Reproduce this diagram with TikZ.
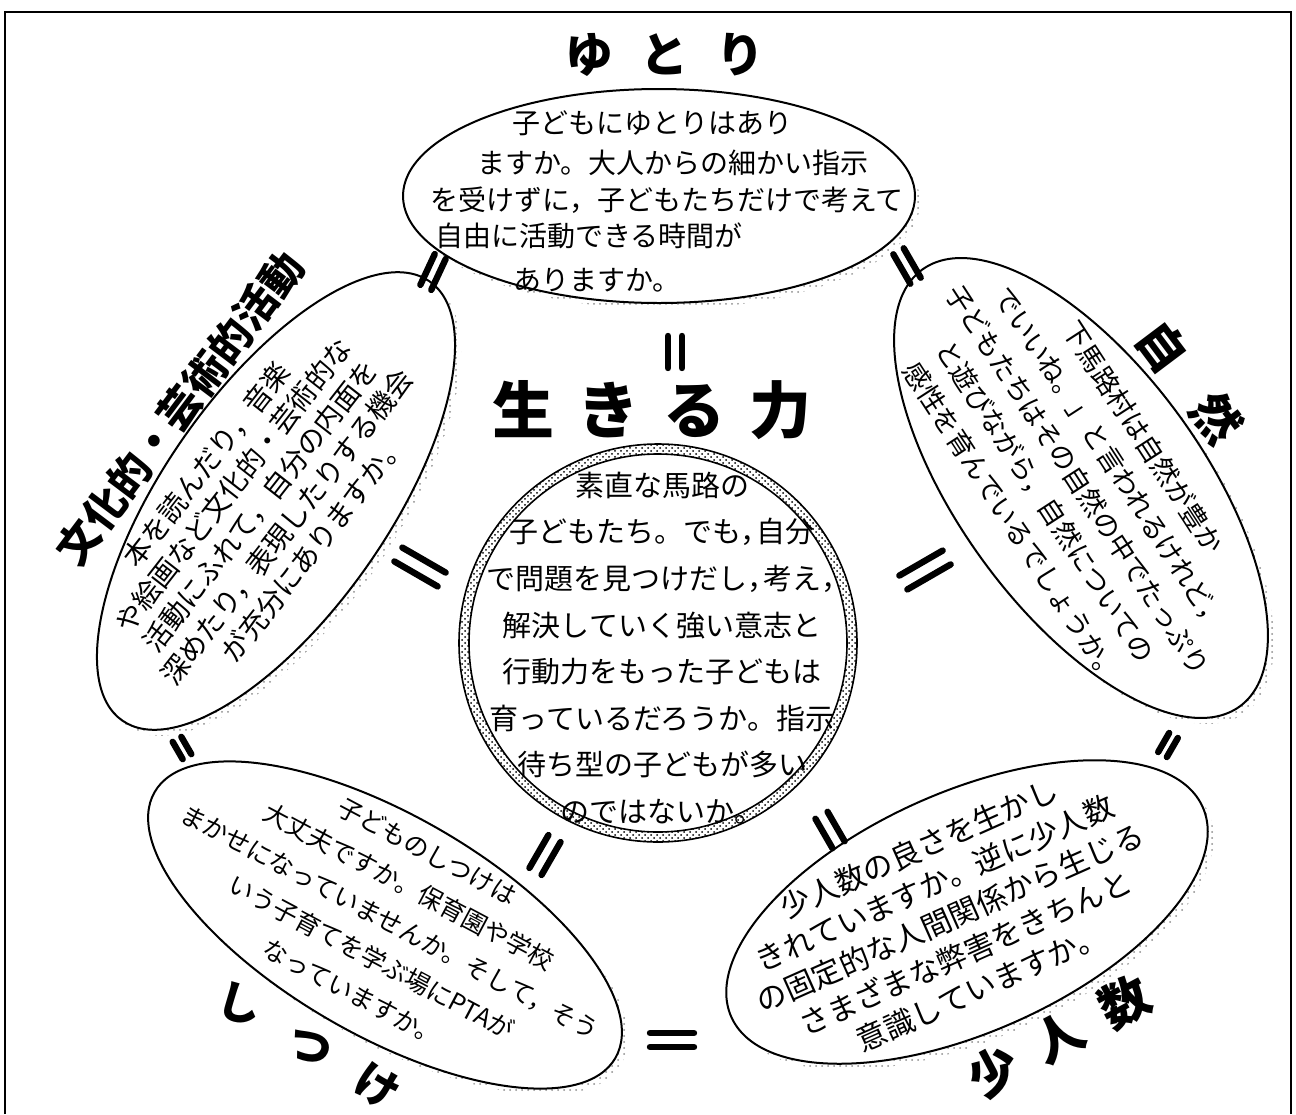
\documentclass[tikz,border=0pt]{standalone}
\usepackage{fontspec}
\newfontfamily\jp{Noto Sans CJK JP}
\usetikzlibrary{shapes.geometric,patterns}
\newcommand\tcm{，\kern-0.45em}
\tikzset{
  pics/eqm/.style 2 args={code={\draw[eqbar] (-#2,-#1) -- (-#2,#1) (#2,-#1) -- (#2,#1);}},
}
\begin{document}
\begin{tikzpicture}[x=0.5pt,y=-0.5pt,
  bub/.style={ellipse,draw=black,line width=1pt,fill=white,inner sep=0pt,outer sep=0pt},
  shd/.style={ellipse,pattern=dots,pattern color=black!45,inner sep=0pt,outer sep=0pt},
  body/.style={font=\jp\fontsize{14pt}{19pt}\selectfont,align=center,inner sep=0pt},
  ttl/.style={font=\jp\bfseries\fontsize{24pt}{28pt}\selectfont,inner sep=0pt},
  eqbar/.style={line width=3.2pt,line cap=round},
]
\useasboundingbox (0,0) rectangle (1296,1114);
% frame
\draw[line width=1.2pt] (5,1114) -- (5,12) -- (1291,12) -- (1291,1114);

% shadows
\node[shd,minimum width=256pt,minimum height=107pt] (sY) at (664,202) {};
\node[shd,minimum width=270pt,minimum height=122pt,rotate=-54] (sN) at (1087,494) {};
\node[shd,minimum width=268pt,minimum height=112pt,rotate=55] (sB) at (282,507) {};
\node[shd,minimum width=266pt,minimum height=110pt,rotate=-30] (sS) at (391,931) {};
\node[shd,minimum width=258pt,minimum height=120pt,rotate=24] (sF) at (973,918) {};

% bubbles
\node[bub,minimum width=256pt,minimum height=107pt] (yutoriB) at (659,196) {};
\node[bub,minimum width=270pt,minimum height=122pt,rotate=-54] (shizenB) at (1081,488) {};
\node[bub,minimum width=268pt,minimum height=112pt,rotate=55] (bunkaB) at (276,501) {};
\node[bub,minimum width=266pt,minimum height=110pt,rotate=-30] (shitsukeB) at (385,925) {};
\node[bub,minimum width=258pt,minimum height=120pt,rotate=24] (shoninB) at (967,912) {};

% centre circle with ring
\node[circle,draw,line width=0.8pt,minimum size=199pt,inner sep=0pt,pattern=crosshatch dots,pattern color=black] (ringO) at (658,643) {};
\node[circle,draw,line width=0.8pt,minimum size=189pt,inner sep=0pt,fill=white] (ringI) at (658,643) {};

% texts: top
\node[body] (y1) at (652,123) {子どもにゆとりはあり};
\node[body] (y2) at (673,163) {ますか。大人からの細かい指示};
\node[body] (y3) at (667,200) {を受けずに，子どもたちだけで考えて};
\node[body] (y4) at (589,236) {自由に活動できる時間が};
\node[body] (y5) at (597,280) {ありますか。};

% right
\node[body,font=\jp\fontsize{13.5pt}{19.5pt}\selectfont,rotate=-57] (nT) at (1078,480)
 {下馬路村は自然が豊か\\でいいね。」と言われるけれど，\\子どもたちはその自然の中でたっぷり\\と遊びながら，自然についての\\感性を育んでいるでしょうか。};

% left
\node[body,font=\jp\fontsize{14pt}{17pt}\selectfont,rotate=52] (bT) at (260,506)
 {本を読んだり，音楽\\や絵画など文化的・芸術的な\\活動にふれて，自分の内面を\\深めたり，表現したりする機会\\が充分にありますか。};

% bottom left
\node[body,font=\jp\fontsize{12.5pt}{20pt}\selectfont,rotate=-28] (sT) at (390,922)
 {子どものしつけは\\大丈夫ですか。保育園や学校\\まかせになっていませんか。そして，そう\\いう子育てを学ぶ場にPTAが\\なっていますか。};

% bottom right
\node[body,font=\jp\fontsize{15pt}{19pt}\selectfont,rotate=24] (fT) at (950,918)
 {少人数の良さを生かし\\きれていますか。逆に少人数\\の固定的な人間関係から生じる\\さまざまな弊害をきちんと\\意識していますか。};

% centre
\node[body,font=\jp\fontsize{14.5pt}{23.3pt}\selectfont] (cT) at (662,648)
 {素直な馬路の\\子どもたち。でも\tcm 自分\\で問題を見つけだし\tcm 考え\tcm\\解決していく強い意志と\\行動力をもった子どもは\\育っているだろうか。指示\\待ち型の子どもが多い\\のではないか。};

% titles
\node[ttl] (yutori) at (665,55) {ゆ\hspace{14pt}と\hspace{14pt}り};
\node[ttl,font=\jp\bfseries\fontsize{31pt}{34pt}\selectfont] (ikiru) at (652,410) {生\hspace{12pt}き\hspace{12pt}る\hspace{12pt}力};
\node[ttl,rotate=-53] (shizen) at (1190,382) {自\hspace{21pt}然};
\node[ttl,font=\jp\bfseries\fontsize{21pt}{26pt}\selectfont,rotate=53] (bunka) at (180,408) {文化的・芸術的活動};
\node[ttl,font=\jp\bfseries\fontsize{22pt}{26pt}\selectfont,rotate=-15] (shi) at (240,1004) {し};
\node[ttl,font=\jp\bfseries\fontsize{22pt}{26pt}\selectfont,rotate=-25] (tsu) at (310,1047) {つ};
\node[ttl,font=\jp\bfseries\fontsize{22pt}{26pt}\selectfont,rotate=-30] (ke) at (377,1087) {け};
\node[ttl,font=\jp\bfseries\fontsize{25pt}{28pt}\selectfont,rotate=28] (shonin) at (1059,1037) {少\hspace{12pt}人\hspace{12pt}数};

% equal marks
\coordinate (e1) at (433,272);
\coordinate (e2) at (907,266);
\coordinate (e3) at (675,352);
\coordinate (e4) at (420,567);
\coordinate (e5) at (925,570);
\coordinate (e6) at (182,748);
\coordinate (e7) at (1168,745);
\coordinate (e8) at (545,855);
\coordinate (e9) at (830,830);
\coordinate (e10) at (672,1040);
\pic[rotate=-25] at (e1) {eqm={17}{6}};
\pic[rotate=30] at (e2) {eqm={17}{6}};
\pic at (e3) {eqm={16}{7}};
\pic[rotate=60] at (e4) {eqm={25}{8}};
\pic[rotate=-60] at (e5) {eqm={25}{8}};
\pic[rotate=30] at (e6) {eqm={10}{5}};
\pic[rotate=-30] at (e7) {eqm={11}{5}};
\pic[rotate=-30] at (e8) {eqm={19}{7}};
\pic[rotate=30] at (e9) {eqm={17}{7}};
\pic[rotate=90] at (e10) {eqm={22}{7}};
\end{tikzpicture}
\end{document}
